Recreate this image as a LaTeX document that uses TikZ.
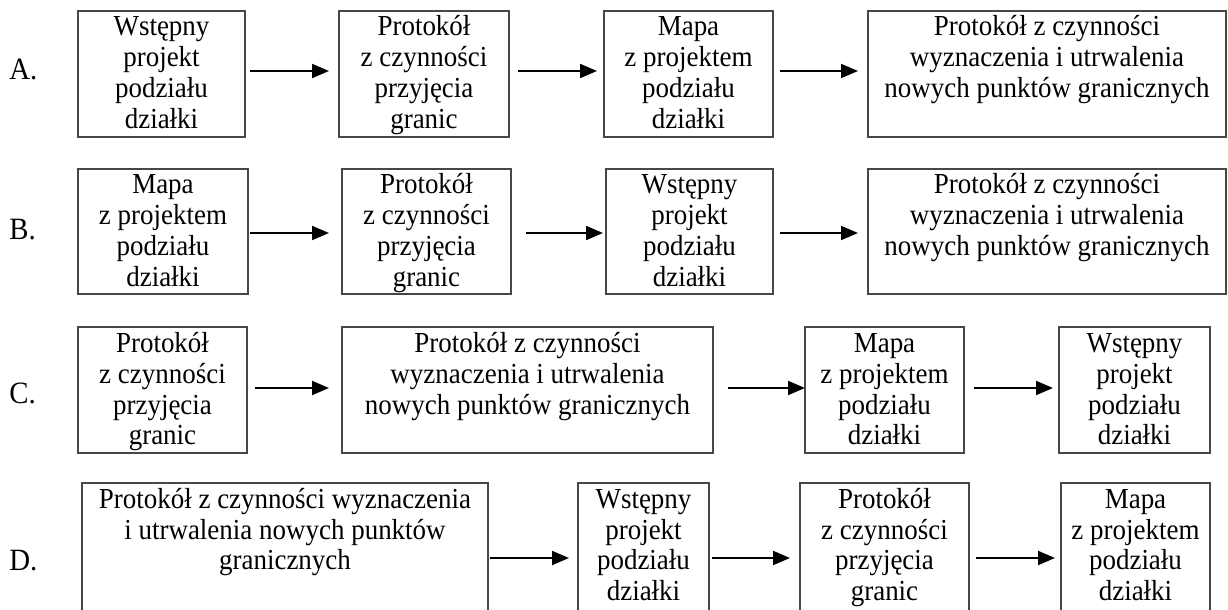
\documentclass[tikz,border=0pt]{standalone}
\usepackage{fontspec}
\setmainfont{Liberation Serif}[FakeStretch=0.93]
\usetikzlibrary{arrows.meta}
\newcommand{\bxt}[3]{\parbox[t][#2][t]{#1}{\fontsize{14.5}{15.5}\selectfont\centering\rule{0pt}{12.5pt}#3}}
\tikzset{
  box/.style={draw=black!72, line width=0.6pt, inner sep=0pt, outer sep=0pt, anchor=north west},
  lab/.style={anchor=base west, inner sep=0pt, font=\fontsize{15.5}{15.5}\selectfont},
  arr/.style={line width=1pt, -{Triangle[length=8.5pt,width=7pt]}},
}
\begin{document}
\begin{tikzpicture}[x=0.5pt,y=-0.5pt]
\useasboundingbox (0,0) rectangle (1228,610);
\clip (0,0) rectangle (1228,610);
% labels
\node[lab] (la) at (9,80) {A.};
\node[lab] (lb) at (9,240) {B.};
\node[lab] (lc) at (9,403) {C.};
\node[lab] (ld) at (9,570) {D.};
% row coordinates
\coordinate (ya) at (0,71);
\coordinate (yb) at (0,233);
\coordinate (yc) at (0,388);
\coordinate (yd) at (0,558);
% Row A
\node[box] (A1) at (78,11) {\bxt{83.5pt}{63pt}{Wstępny\\projekt\\podziału\\działki}};
\node[box] (A2) at (339,11) {\bxt{85pt}{63pt}{Protokół\\z czynności\\przyjęcia\\granic}};
\node[box] (A3) at (604,11) {\bxt{84.5pt}{63pt}{Mapa\\z projektem\\podziału\\działki}};
\node[box] (A4) at (868,11) {\bxt{179pt}{63pt}{Protokół z czynności\\wyznaczenia i utrwalenia\\nowych punktów granicznych}};
\draw[arr, shorten <=2.5pt, shorten >=5pt] (A1.east |- ya) -- (A2.west |- ya);
\draw[arr, shorten <=4.5pt, shorten >=3.5pt] (A2.east |- ya) -- (A3.west |- ya);
\draw[arr, shorten <=3.5pt, shorten >=5pt] (A3.east |- ya) -- (A4.west |- ya);
% Row B
\node[box] (B1) at (78,169) {\bxt{85pt}{62.5pt}{Mapa\\z projektem\\podziału\\działki}};
\node[box] (B2) at (342,169) {\bxt{84.5pt}{62.5pt}{Protokół\\z czynności\\przyjęcia\\granic}};
\node[box] (B3) at (606,169) {\bxt{83.5pt}{62.5pt}{Wstępny\\projekt\\podziału\\działki}};
\node[box] (B4) at (868,169) {\bxt{179pt}{62.5pt}{Protokół z czynności\\wyznaczenia i utrwalenia\\nowych punktów granicznych}};
\draw[arr, shorten <=1pt, shorten >=6.5pt] (B1.east |- yb) -- (B2.west |- yb);
\draw[arr, shorten <=7.5pt, shorten >=1.5pt] (B2.east |- yb) -- (B3.west |- yb);
\draw[arr, shorten <=3.5pt, shorten >=5pt] (B3.east |- yb) -- (B4.west |- yb);
% Row C
\node[box] (C1) at (78,327) {\bxt{84.5pt}{63pt}{Protokół\\z czynności\\przyjęcia\\granic}};
\node[box] (C2) at (342,327) {\bxt{185.5pt}{63pt}{Protokół z czynności\\wyznaczenia i utrwalenia\\nowych punktów granicznych}};
\node[box] (C3) at (805,327) {\bxt{79.5pt}{63pt}{Mapa\\z projektem\\podziału\\działki}};
\node[box] (C4) at (1059,327) {\bxt{75.5pt}{63pt}{Wstępny\\projekt\\podziału\\działki}};
\draw[arr, shorten <=4pt, shorten >=6.5pt] (C1.east |- yc) -- (C2.west |- yc);
\draw[arr, shorten <=7.5pt, shorten >=0pt] (C2.east |- yc) -- (C3.west |- yc);
\draw[arr, shorten <=5pt, shorten >=3pt] (C3.east |- yc) -- (C4.west |- yc);
% Row D
\node[box] (D1) at (82,483) {\bxt{203pt}{68.5pt}{Protokół z czynności wyznaczenia\\i utrwalenia nowych punktów\\granicznych}};
\node[box] (D2) at (578,483) {\bxt{65.5pt}{68.5pt}{Wstępny\\projekt\\podziału\\działki}};
\node[box] (D3) at (800,483) {\bxt{84.5pt}{68.5pt}{Protokół\\z czynności\\przyjęcia\\granic}};
\node[box] (D4) at (1061,483) {\bxt{74.5pt}{68.5pt}{Mapa\\z projektem\\podziału\\działki}};
\draw[arr, shorten <=1pt, shorten >=4.5pt] (D1.east |- yd) -- (D2.west |- yd);
\draw[arr, shorten <=1.5pt, shorten >=5pt] (D2.east |- yd) -- (D3.west |- yd);
\draw[arr, shorten <=3.5pt, shorten >=3pt] (D3.east |- yd) -- (D4.west |- yd);
\end{tikzpicture}
\end{document}
